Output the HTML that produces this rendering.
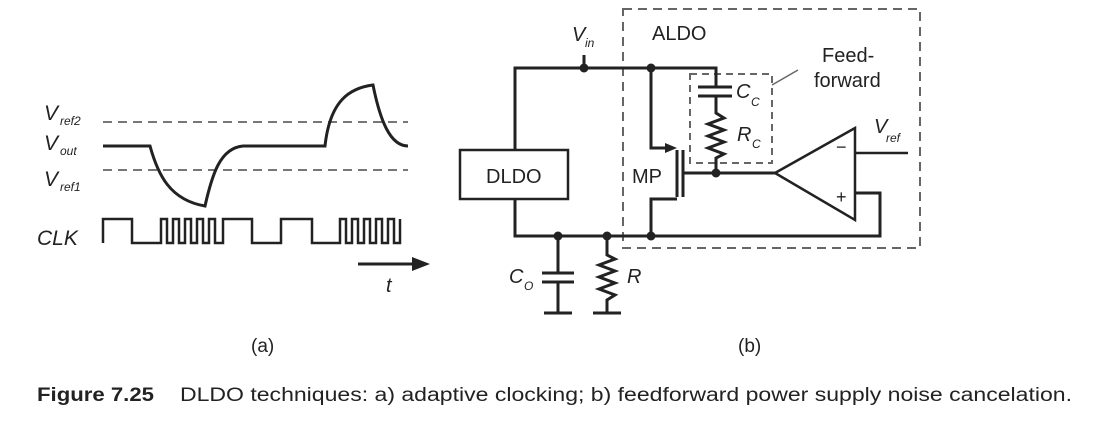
<!DOCTYPE html>
<html><head><meta charset="utf-8"><style>
body{margin:0;background:#fff;width:1117px;height:424px;overflow:hidden;font-family:"Liberation Sans",sans-serif;}
svg{position:absolute;left:0;top:0}
.t{font-family:"Liberation Sans",sans-serif;fill:#222}
</style></head><body>
<svg width="1117" height="424" viewBox="0 0 1117 424">
<g fill="none" stroke="#222" stroke-width="3">
<line x1="103" y1="122" x2="408" y2="122" stroke="#777" stroke-width="2" stroke-dasharray="9,6"/>
<line x1="103" y1="170" x2="408" y2="170" stroke="#777" stroke-width="2" stroke-dasharray="9,6"/>
<path d="M103 146 H150 C158 175 170 200 205 206 C212 175 220 148 243 146 H325 C330 100 350 88 373 85 C380 120 390 146 408 146"/>
<path stroke-width="2.5" d="M103 243 V219 H132 V243 H161 V219 H167 V243 H173 V219 H179 V243 H185 V219 H191 V243 H197 V219 H203 V243 H209 V219 H215 V243 H223 V219 H252 V243 H281 V219 H312 V243 H340 V219 H346 V243 H352 V219 H358 V243 H364 V219 H370 V243 H376 V219 H382 V243 H388 V219 H394 V243 H400 V219"/>
<line x1="358" y1="264" x2="414" y2="264"/>
</g>
<polygon points="412,257 430,264 412,271" fill="#222"/>
<g class="t" font-style="italic">
<text x="44" y="120" font-size="21">V</text><text x="60" y="125" font-size="12">ref2</text>
<text x="44" y="150" font-size="21">V</text><text x="60" y="155" font-size="12">out</text>
<text x="44" y="186" font-size="21">V</text><text x="60" y="191" font-size="12">ref1</text>
<text x="37" y="245" font-size="21">CLK</text>
<text x="386" y="292" font-size="20">t</text>
</g>
<rect x="623" y="9" width="297" height="239" fill="none" stroke="#666" stroke-width="2" stroke-dasharray="9,6"/>
<rect x="690" y="74" width="82" height="89" fill="none" stroke="#666" stroke-width="2" stroke-dasharray="7,5"/>
<line x1="772" y1="85" x2="798" y2="70" stroke="#666" stroke-width="1.5"/>
<g fill="none" stroke="#222" stroke-width="3">
<rect x="460" y="150" width="108" height="49" stroke-width="2.5"/>
<path d="M515 150 V68 H716 V87"/>
<line x1="584" y1="55" x2="584" y2="68"/>
<path d="M515 199 V236 H880 V193 H855"/>
<path d="M651 68 V148 H668"/>
<line x1="677" y1="150" x2="677" y2="197"/>
<line x1="683" y1="150" x2="683" y2="197"/>
<path d="M677 199 H651 V236"/>
<path d="M683 173 H775"/>
<line x1="698" y1="87" x2="732" y2="87"/>
<line x1="698" y1="96" x2="732" y2="96"/>
<path d="M716 96 V113 L724 118 L708 124 L724 130 L708 136 L724 142 L708 148 L724 154 L716 158 V173"/>
<path d="M775 173 L855 128 V220 Z" stroke-width="2.5"/>
<line x1="855" y1="153" x2="908" y2="153" stroke-width="2.5"/>
<path d="M558 236 V273"/>
<line x1="542" y1="273" x2="574" y2="273"/>
<line x1="542" y1="282" x2="574" y2="282"/>
<path d="M558 282 V313"/>
<line x1="544" y1="313" x2="572" y2="313"/>
<path d="M607 236 V255 L615 259 L599 265 L615 271 L599 277 L615 283 L599 289 L615 295 L607 300 V313"/>
<line x1="593" y1="313" x2="621" y2="313"/>
</g>
<polygon points="665,143 677,148 665,153" fill="#222"/>
<g fill="#222">
<circle cx="584" cy="68" r="4.5"/><circle cx="651" cy="68" r="4.5"/>
<circle cx="716" cy="173" r="4.5"/>
<circle cx="558" cy="236" r="4.5"/><circle cx="607" cy="236" r="4.5"/><circle cx="651" cy="236" r="4.5"/>
</g>
<g class="t" font-size="20">
<text x="486" y="183">DLDO</text>
<text x="632" y="183">MP</text>
<text x="652" y="40">ALDO</text>
<text x="822" y="62">Feed-</text>
<text x="814" y="87">forward</text>
<text x="836" y="153" font-size="18">−</text>
<text x="836" y="203" font-size="18">+</text>
</g>
<g class="t" font-style="italic">
<text x="572" y="41" font-size="20">V</text><text x="585" y="47" font-size="12">in</text>
<text x="736" y="98" font-size="20">C</text><text x="751" y="106" font-size="12">C</text>
<text x="737" y="141" font-size="20">R</text><text x="752" y="148" font-size="12">C</text>
<text x="874" y="133" font-size="20">V</text><text x="886" y="142" font-size="12">ref</text>
<text x="509" y="283" font-size="20">C</text><text x="524" y="290" font-size="12">O</text>
<text x="627" y="283" font-size="20">R</text>
</g>
<g class="t" font-size="19">
<text x="251" y="352">(a)</text>
<text x="738" y="352">(b)</text>
</g>
<text x="37" y="401" class="t" font-size="19" font-weight="bold" textLength="117" lengthAdjust="spacingAndGlyphs">Figure 7.25</text>
<text x="180" y="401" class="t" font-size="19" textLength="892" lengthAdjust="spacingAndGlyphs">DLDO techniques: a) adaptive clocking; b) feedforward power supply noise cancelation.</text>
</svg>
</body></html>
